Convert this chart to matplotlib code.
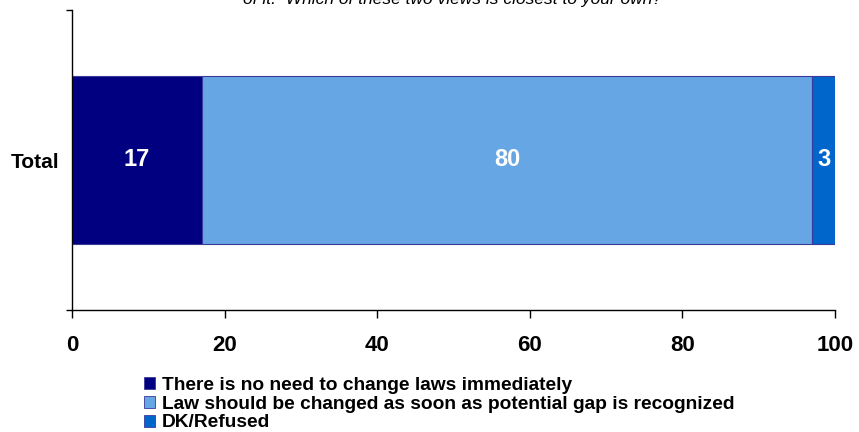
import matplotlib
matplotlib.use("Agg")
import matplotlib.pyplot as plt
from matplotlib.patches import Patch

categories = ["Total"]
series_names = ["There is no need to change laws immediately",
                "Law should be changed as soon as potential gap is recognized",
                "DK/Refused"]
values = [[17], [80], [3]]
colors = ["#000080", "#66A6E4", "#0066CC"]
xticks = [0, 20, 40, 60, 80, 100]
title_text = "of it.  Which of these two views is closest to your own?"

plt.rcParams['font.family'] = ['Liberation Sans', 'DejaVu Sans']

fig = plt.figure(figsize=(8.59, 4.32), dpi=100)
ax = fig.add_axes([72/859, 1-310/432, (835-72)/859, 300/432])

left = [0]*len(categories)
for name, vals, col in zip(series_names, values, colors):
    bars = ax.barh(categories, vals, left=left, height=0.56, color=col,
                   edgecolor="#3A3A9A", linewidth=0.8, label=name)
    for b, v, l in zip(bars, vals, left):
        ax.text(l + v/2, b.get_y() + b.get_height()/2, f"{v}", color="white",
                fontsize=17, fontweight="bold", ha="center", va="center")
    left = [a + b for a, b in zip(left, vals)]

ax.set_xlim(0, 100)
ax.set_ylim(-0.5, 0.5)
ax.set_xticks(xticks)
ax.set_xticklabels([str(t) for t in xticks], fontsize=16, fontweight="bold")
ax.tick_params(axis='x', length=6, width=1, pad=12, direction='out')
ax.set_yticks([0])
ax.set_yticklabels(categories, fontsize=15, fontweight="bold")
ax.tick_params(axis='y', which='major', length=0, pad=9)
ax.set_yticks([-0.5, 0.5], minor=True)
ax.tick_params(axis='y', which='minor', length=4, width=1, direction='out')
for s in ["top", "right"]:
    ax.spines[s].set_visible(False)
for s in ["left", "bottom"]:
    ax.spines[s].set_linewidth(1)

handles = [Patch(facecolor=c, edgecolor="#3A3A9A", linewidth=0.6) for c in colors]
fig.legend(handles, series_names, loc="upper left", bbox_to_anchor=(134/859, 1-367/432),
           frameon=False, prop={'size': 13.8, 'weight': 'bold'}, handlelength=0.6,
           handleheight=0.6, handletextpad=0.35, labelspacing=0.1, borderpad=0)

fig.text(452/859, 1-4/432, title_text, ha="center", va="baseline",
         fontsize=12.5, style="italic")

fig.savefig("out.png", dpi=100)
